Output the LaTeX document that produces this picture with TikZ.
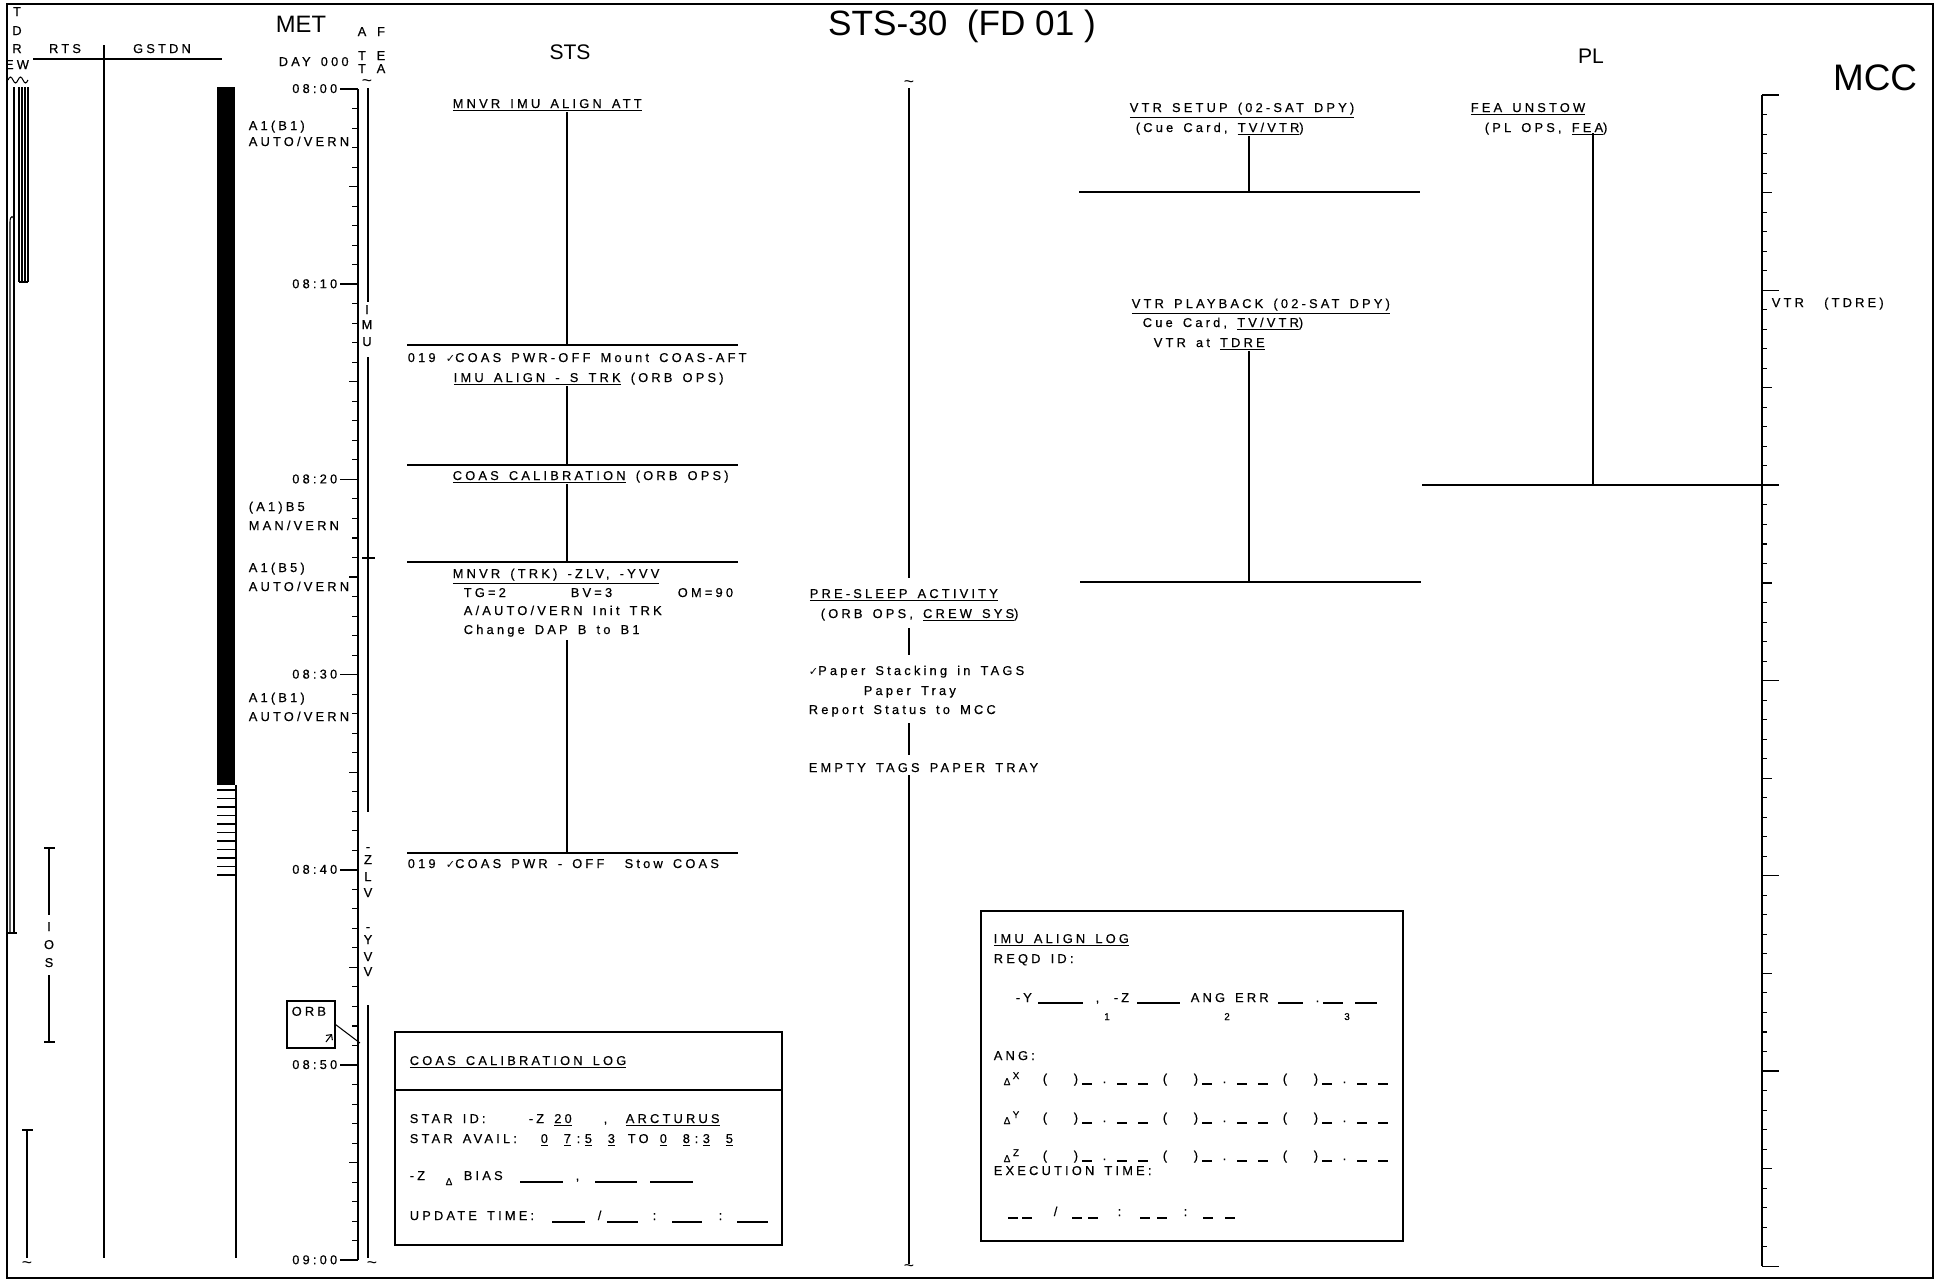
\documentclass[tikz,border=0pt]{standalone}
\usepackage{fontspec}
\setmainfont{Liberation Sans}
\newfontfamily\plotfont[LetterSpace=25,WordSpace=1.5,FakeBold=0.5]{Liberation Sans}
\newfontfamily\symfont{DejaVu Sans}
\usetikzlibrary{positioning,arrows.meta}

\newcommand{\chk}{{\symfont\fontsize{6.4}{7}\selectfont ✓}}

\tikzset{
  lbl/.style={font=\plotfont\fontsize{7.3}{8}\selectfont, inner sep=0pt, anchor=base west},
  clbl/.style={lbl, anchor=base},
  sml/.style={font=\plotfont\fontsize{5.6}{6}\selectfont, inner sep=0pt, anchor=base},
  hdr/.style={font=\fontsize{12}{14}\selectfont, inner sep=0pt},
  blank/.style={line width=0.6pt},
  thin/.style={line width=0.6pt},
  squig/.style={inner sep=0pt, font=\fontsize{10}{10}\selectfont},
}

\begin{document}
\begin{tikzpicture}[x=0.2mm, y=-0.2mm, line width=0.9pt]
  \useasboundingbox (0,0) rectangle (1940,1280);

  % Frame and headings
  \draw (7,4) rectangle (1933,1278);
  \node[hdr, font=\fontsize{20}{23}\selectfont] (title) at (962,26) {STS-30\ \ (FD 01 )};
  \node[hdr, font=\fontsize{21}{24}\selectfont] (mcc) at (1875,78) {MCC};
  \node[hdr, font=\fontsize{13.5}{16}\selectfont] (met) at (301,24) {MET};
  \node[hdr] (sts) at (570,52) {STS};
  \node[hdr] (pl) at (1591,56) {PL};
  \node[lbl] (day) at (278,66) {DAY 000};

  % TDRE / RTS / GSTDN
  \foreach \c/\yy [count=\i] in {T/16, D/35, R/53, EW/69}
    \node[clbl] (tdre\i) at (17,\yy) {\c};
  \node[clbl] (rts) at (65,53) {RTS};
  \node[clbl] (gstdn) at (162,53) {GSTDN};
  \draw (33,59) -- (222,59);
  \draw (104,45) -- (104,1258);
  \draw[thin] (8,80) sin (10.5,77) cos (13,80) sin (15.5,83) cos (18,80) sin (20.5,77) cos (23,80) sin (25.5,83) cos (28,80);
  \foreach \x in {19,22,25,28} \draw[thin] (\x,87) -- (\x,282);
  \draw[thin] (19,282) -- (28,282);
  \draw[thin] (14,87) -- (14,933);
  \draw[thin] (10,933) -- (10,222) .. controls (10,215) and (14,215) .. (14,221);
  \draw[thin] (7,933) -- (17,933);

  % GSTDN coverage bar
  \fill (217,87) rectangle (235,785);
  \foreach \k in {0,...,10} \draw[thin] (217,790+8.5*\k) -- (235,790+8.5*\k);
  \draw (236,785) -- (236,1258);

  % IOS passes
  \draw (44,848) -- (55,848) (49,848) -- (49,915);
  \draw (49,975) -- (49,1042) (44,1042) -- (55,1042);
  \foreach \c/\yy [count=\i] in {I/931, O/949, S/967} \node[clbl] (ios\i) at (49,\yy) {\c};
  \draw (22,1130) -- (33,1130) (27,1130) -- (27,1258);
  \node[squig] (sqios) at (27,1265) {\textasciitilde};

  % MET axis
  \draw (358,89) -- (358,1260);
  \foreach \m in {0,...,60} {
    \pgfmathsetmacro{\len}{mod(\m,5)==0 ? 9 : 6}
    \draw[thin] (358,89+19.52*\m) -- ++(-\len,0);
  }
  \foreach \lab [count=\i from 0] in {08:00,08:10,08:20,08:30,08:40,08:50,09:00} {
    \draw (340,89+195.2*\i) -- (358,89+195.2*\i);
    \node[lbl, anchor=base east] (met\i) at (338,93+195.2*\i) {\lab};
  }

  % DAP modes
  \node[lbl] (dapa1) at (248,130) {A1(B1)};
  \node[lbl] (dapa2) at (248,146) {AUTO/VERN};
  \node[lbl] (dapb1) at (248,511) {(A1)B5};
  \node[lbl] (dapb2) at (248,530) {MAN/VERN};
  \node[lbl] (dapc1) at (248,572) {A1(B5)};
  \node[lbl] (dapc2) at (248,591) {AUTO/VERN};
  \node[lbl] (dapd1) at (248,702) {A1(B1)};
  \node[lbl] (dapd2) at (248,721) {AUTO/VERN};

  % ORB note
  \node[draw, thin, minimum width=9.6mm, minimum height=9.4mm, inner sep=0pt] (orb) at (311,1024.5) {};
  \node[lbl, anchor=north west] (orbtxt) at ([shift={(0.9mm,-1.1mm)}]orb.north west) {ORB};
  \draw[thin, -{Straight Barb[length=0.8mm]}] (326,1042) -- (332,1034);
  \coordinate (orbtip) at (360,1043);
  \draw[thin] (orb.east) -- (orbtip);

  % ATT and FEA columns
  \foreach \c/\yy [count=\i] in {A/36,T/60,T/73} \node[clbl] (att\i) at (362,\yy) {\c};
  \foreach \c/\yy [count=\i] in {F/36,E/60,A/73} \node[clbl] (fea\i) at (381,\yy) {\c};
  \node[squig] (sqatt) at (367,83) {\textasciitilde};
  \draw (368,88) -- (368,302);
  \foreach \c/\yy [count=\i] in {I/314,M/329,U/346} \node[clbl] (imu\i) at (367,\yy) {\c};
  \draw (368,357) -- (368,812);
  \draw (362,558) -- (375,558);
  \foreach \c/\yy [count=\i] in {-/851,Z/864,L/881,V/897,-/931,Y/944,V/961,V/976} \node[clbl] (zy\i) at (368,\yy) {\c};
  \draw (368,1005) -- (368,1258);
  \node[squig] (sqattb) at (372,1265) {\textasciitilde};

  % STS column
  \node[lbl] (mnvr) at (452,108) {\underline{MNVR IMU ALIGN ATT}};
  \coordinate (sa) at (407,345);
  \coordinate (sb) at (407,465);
  \coordinate (sc) at (407,562);
  \coordinate (sd) at (407,853);
  \foreach \c in {sa,sb,sc,sd} \draw (\c) -- ++(331,0);
  \node[lbl] (coas1) at (407,362) {019 \chk COAS PWR-OFF Mount COAS-AFT};
  \node[lbl] (imual) at (453,382) {\underline{IMU ALIGN - S TRK} (ORB OPS)};
  \node[lbl] (coascal) at (452,480) {\underline{COAS CALIBRATION} (ORB OPS)};
  \node[lbl] (mnvrtrk) at (452,578) {\underline{MNVR (TRK) -ZLV, -YVV}};
  \node[lbl] (tg) at (463,597) {TG=2};
  \node[lbl] (bv) at (570,597) {BV=3};
  \node[lbl] (om) at (677,597) {OM=90};
  \node[lbl] (init) at (463,615) {A/AUTO/VERN Init TRK};
  \node[lbl] (dapchg) at (463,634) {Change DAP B to B1};
  \node[lbl] (coas2) at (407,868) {019 \chk COAS PWR - OFF\ \ Stow COAS};
  \draw (567,0 |- mnvr.south) -- (567,0 |- sa);
  \draw (567,0 |- imual.south) -- (567,0 |- sb);
  \draw (567,0 |- coascal.south) -- (567,0 |- sc);
  \draw (567,640) -- (567,0 |- sd);

  % COAS calibration log
  \draw (395,1032) rectangle (782,1245);
  \draw (395,1090) -- (782,1090);
  \node[lbl] (clog) at (409,1065) {\underline{COAS CALIBRATION LOG}};
  \node[lbl] (starid) at (409,1123) {STAR ID:};
  \node[lbl] (starz) at (528,1123) {-Z \underline{20}};
  \node[lbl] (starc) at (603,1123) {,};
  \node[lbl] (arct) at (625,1123) {\underline{ARCTURUS}};
  \node[lbl] (avail) at (409,1143) {STAR AVAIL:};
  \foreach \d/\x [count=\i] in {0/540,7/563,5/584,3/607,0/659,8/682,3/702,5/725}
    \node[lbl] (av\i) at (\x,1143) {\underline{\d}};
  \node[lbl] (avc1) at (576,1143) {:};
  \node[lbl] (avc2) at (694,1143) {:};
  \node[lbl] (avto) at (627,1143) {TO};
  \node[lbl] (zb) at (409,1180) {-Z};
  \node[sml] (zbd) at (449,1185) {Δ};
  \node[lbl] (bias) at (463,1180) {BIAS};
  \foreach \a/\b in {520/563,595/637,650/693} \draw[blank] (\a,1182) -- (\b,1182);
  \node[lbl] (biasc) at (575,1180) {,};
  \node[lbl] (upd) at (409,1220) {UPDATE TIME:};
  \foreach \a/\b in {552/585,607/638,672/702,737/768} \draw[blank] (\a,1222) -- (\b,1222);
  \node[lbl] (upd1) at (597,1220) {/};
  \node[lbl] (upd2) at (652,1220) {:};
  \node[lbl] (upd3) at (718,1220) {:};

  % Crew activity column
  \node[squig] (sqps) at (909,84) {\textasciitilde};
  \node[lbl] (presleep) at (809,598) {\underline{PRE-SLEEP ACTIVITY}};
  \node[lbl] (psops) at (820,618) {(ORB OPS, \underline{CREW SYS})};
  \node[lbl] (paper) at (808,675) {\chk Paper Stacking in TAGS};
  \node[lbl] (tray) at (863,695) {Paper Tray};
  \node[lbl] (report) at (808,714) {Report Status to MCC};
  \node[lbl] (empty) at (808,772) {EMPTY TAGS PAPER TRAY};
  \node[squig] (sqpsb) at (909,1268) {\textasciitilde};
  \draw (sqps.south) -- (909,578);
  \draw (909,628) -- (909,655);
  \draw (909,723) -- (909,755);
  \draw (909,775) -- (sqpsb.north);

  % IMU align log
  \draw (981,911) rectangle (1403,1241);
  \node[lbl] (ilog) at (993,943) {\underline{IMU ALIGN LOG}};
  \node[lbl] (reqd) at (993,963) {REQD ID:};
  \node[lbl] (iy) at (1015,1002) {-Y};
  \node[lbl] (ic) at (1095,1002) {,};
  \node[lbl] (iz) at (1113,1002) {-Z};
  \node[lbl] (ierr) at (1190,1002) {ANG ERR};
  \node[lbl] (idot) at (1315,1002) {.};
  \foreach \a/\b in {1038/1083,1137/1180,1278/1303,1323/1343,1355/1377} \draw[blank] (\a,1003) -- (\b,1003);
  \foreach \n/\x in {1/1107,2/1227,3/1347} \node[sml] (isub\n) at (\x,1020) {\n};
  \node[lbl] (iang) at (993,1060) {ANG:};
  \foreach \ax/\yy in {X/1083,Y/1122,Z/1160} {
    \node[sml] (d\ax) at (1007,\yy+2) {Δ};
    \node[sml] (s\ax) at (1016,\yy-4) {\ax};
    \foreach \gx in {1042,1162,1282} {
      \node[lbl] (o\ax\gx) at (\gx,\yy) {(};
      \node[lbl] (c\ax\gx) at (\gx+31,\yy) {)};
      \node[lbl] (p\ax\gx) at (\gx+60,\yy) {.};
      \foreach \dx in {40,75,96} \draw[blank] (\gx+\dx,\yy+1) -- (\gx+\dx+10,\yy+1);
    }
  }
  \node[lbl] (iexec) at (993,1175) {EXECUTION TIME:};
  \foreach \x in {1008,1022,1072,1088,1140,1157,1203,1225} \draw[blank] (\x,1218) -- (\x+10,1218);
  \node[lbl] (ex1) at (1053,1216) {/};
  \node[lbl] (ex2) at (1117,1216) {:};
  \node[lbl] (ex3) at (1183,1216) {:};

  % Payload column
  \node[lbl] (vtrsetup) at (1129,112) {\underline{VTR SETUP (02-SAT DPY)}};
  \node[lbl] (vtrcue) at (1135,132) {(Cue Card, \underline{TV/VTR})};
  \coordinate (pa) at (1079,192);
  \draw (pa) -- ++(341,0);
  \draw (1249,0 |- vtrcue.south) -- (1249,0 |- pa);
  \node[lbl] (vtrpb) at (1131,308) {\underline{VTR PLAYBACK (02-SAT DPY)}};
  \node[lbl] (vtrcue2) at (1142,327) {Cue Card, \underline{TV/VTR})};
  \node[lbl] (vtrat) at (1153,347) {VTR at \underline{TDRE}};
  \coordinate (pb) at (1080,582);
  \draw (pb) -- ++(341,0);
  \draw (1249,0 |- vtrat.south) -- (1249,0 |- pb);
  \node[lbl] (feaun) at (1470,112) {\underline{FEA UNSTOW}};
  \node[lbl] (feaops) at (1484,132) {(PL OPS, \underline{FEA})};
  \coordinate (pc) at (1422,485);
  \draw (pc) -- (1779,485);
  \draw (1593,133) -- (1593,0 |- pc);

  % MCC axis
  \draw (1762,95) -- (1762,1266);
  \foreach \m in {0,...,60} {
    \pgfmathsetmacro{\len}{mod(\m,10)==0 ? 17 : (mod(\m,5)==0 ? 10 : 5)}
    \draw[thin] (1762,95+19.52*\m) -- ++(\len,0);
  }
  \node[lbl] (mccvtr) at (1771,307) {VTR\ \ (TDRE)};
\end{tikzpicture}
\end{document}
